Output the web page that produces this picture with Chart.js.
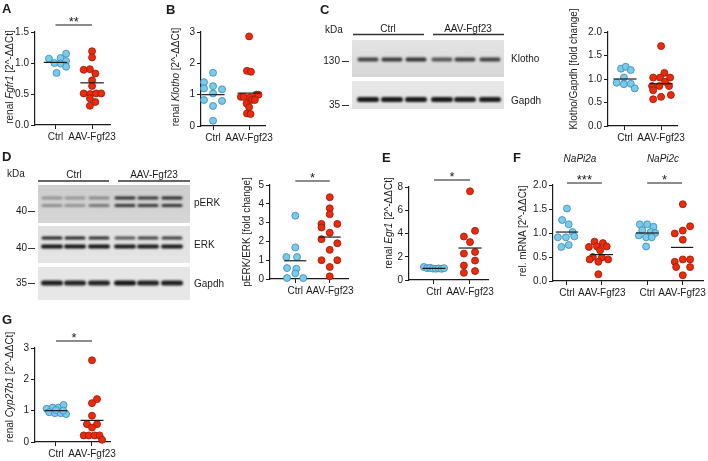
<!DOCTYPE html>
<html><head><meta charset="utf-8">
<script src="https://cdn.jsdelivr.net/npm/chart.js@4.4.1/dist/chart.umd.min.js"></script>
<style>
body{margin:0;background:#fff;}
#root{position:relative;width:708px;height:461px;overflow:hidden;font-family:"Liberation Sans",Arial,sans-serif;color:#1a1a1a;background:#fff;}
.t{position:absolute;white-space:nowrap;line-height:1;}
canvas{position:absolute;}
</style></head><body><div id="root"></div>
<script>
// ---------------- DATA ----------------
const groupLabels = ['Ctrl', 'AAV-Fgf23'];

// A  renal Fgfr1
const aCtrlY = [1.07, 1.00, 1.08, 0.99, 1.15, 1.03, 0.94, 0.84];
const aCtrlDx = [-0.18, -0.03, 0.14, 0.14, 0.29, 0.29, 0.29, 0.03];
const aAavY = [1.19, 1.09, 0.89, 0.90, 0.83, 0.72, 0.63, 0.51, 0.50, 0.51, 0.51, 0.43, 0.37, 0.31];
const aAavDx = [0, 0, -0.23, -0.06, 0.09, 0, 0, -0.23, -0.05, 0.11, 0.25, -0.06, 0.09, -0.06];
const aMeans = [1.01, 0.68];

// B  renal Klotho
const bCtrlY = [1.70, 1.40, 1.27, 1.20, 1.17, 1.04, 0.83, 0.80, 0.64, 0.17];
const bCtrlDx = [0, -0.25, 0, -0.25, 0.25, 0, -0.25, 0.25, 0, 0];
const bAavY = [2.86, 1.76, 1.73, 0.93, 0.93, 0.91, 1.00, 1.00, 0.83, 0.83, 0.72, 0.60, 0.40, 0.38];
const bAavDx = [0, -0.06, 0.05, -0.23, -0.15, 0.02, 0.20, 0.26, 0.07, 0.16, -0.07, 0, -0.06, 0.04];
const bMeans = [1.0, 1.05];

// C  Klotho/Gapdh
const cCtrlY = [1.22, 1.26, 1.19, 1.03, 0.92, 0.89, 0.90, 0.80];
const cCtrlDx = [-0.11, 0.02, 0.16, -0.03, -0.23, -0.03, 0.16, 0.27];
const cAavY = [1.70, 1.13, 1.03, 1.03, 1.03, 0.94, 0.85, 0.85, 0.85, 0.76, 0.66, 0.62, 0.57];
const cAavDx = [0, 0.09, -0.22, -0.03, 0.25, 0.11, -0.25, -0.05, 0.22, -0.22, 0.27, 0, -0.22];
const cMeans = [1.0, 0.9];

// D  pERK/ERK
const dCtrlY = [3.37, 1.68, 1.17, 1.17, 0.58, 0.55, 0.30, 0.05, 0.05];
const dCtrlDx = [0, 0, -0.26, 0.05, -0.24, 0.03, 0, -0.24, 0.23];
const dAavY = [4.35, 3.76, 3.44, 2.93, 2.93, 2.74, 2.46, 2.12, 1.90, 1.55, 1.00, 1.00, 0.64, 0.14];
const dAavDx = [0, 0, 0, -0.24, 0.22, -0.24, 0, -0.24, 0.22, 0, -0.24, 0.22, 0, 0];
const dMeans = [0.97, 2.23];

// E  renal Egr1
const eCtrlY = [1.12, 1.02, 1.05, 0.98, 0.97, 1.00, 0.96, 1.02];
const eCtrlDx = [-0.28, -0.19, -0.11, -0.03, 0.05, 0.13, 0.21, 0.28];
const eAavY = [7.63, 4.23, 3.74, 3.26, 2.41, 2.27, 1.67, 1.25, 0.77, 0.62];
const eAavDx = [0, 0.14, -0.17, 0, 0.14, -0.17, 0.14, -0.17, 0.14, -0.17];
const eMeans = [1.0, 2.75];

// F  NaPi2a / NaPi2c
const fLabels = ['Ctrl', 'AAV-Fgf23', 'Ctrl', 'AAV-Fgf23'];
const fGenes = ['NaPi2a', 'NaPi2c'];
const fCtrlAY = [1.51, 1.27, 1.18, 1.02, 0.91, 0.91, 0.93, 0.71, 0.75];
const fCtrlADx = [0, -0.14, 0.05, 0.16, -0.26, -0.03, 0.21, -0.16, 0.05];
const fAavAY = [0.82, 0.79, 0.72, 0.71, 0.72, 0.64, 0.50, 0.49, 0.45, 0.45, 0.40, 0.14];
const fAavADx = [-0.21, 0.03, -0.14, -0.37, 0.14, -0.05, -0.26, 0, -0.35, 0.18, -0.10, -0.10];
const fCtrlCY = [1.18, 1.18, 1.13, 1.06, 1.02, 1.00, 0.95, 0.91, 0.91, 0.72];
const fCtrlCDx = [-0.21, 0, 0.18, -0.14, 0.10, 0.23, -0.24, -0.03, 0.13, -0.03];
const fAavCY = [1.60, 1.14, 1.05, 0.99, 0.86, 0.40, 0.45, 0.45, 0.29, 0.29, 0.12];
const fAavCDx = [0.02, 0.23, 0.02, -0.21, 0.02, -0.21, 0.02, 0.23, -0.17, 0.23, 0.02];
const fMeans = [1.02, 0.55, 1.0, 0.70];

// G  renal Cyp27b1
const gCtrlY = [1.06, 1.10, 1.10, 1.18, 0.95, 0.92, 0.92, 0.89, 1.02, 1.00];
const gCtrlDx = [-0.26, -0.09, 0.07, 0.21, -0.19, -0.03, 0.13, 0.28, 0.0, 0.20];
const gAavY = [2.61, 1.37, 1.24, 0.84, 0.57, 0.57, 0.46, 0.21, 0.21, 0.21, 0.21, 0.07];
const gAavDx = [0, 0.14, 0, 0, -0.14, 0.14, 0, -0.23, -0.09, 0.07, 0.21, 0.28];
const gMeans = [1.0, 0.69];

// Western blot band intensities (0..1), 6 lanes: 3 Ctrl + 3 AAV-Fgf23
const klothoBands = [0.72, 0.78, 0.82, 0.62, 0.76, 0.74];
const gapdhCBands = [0.95, 0.95, 0.95, 0.95, 0.92, 0.93];
const perkUpper = [0.30, 0.28, 0.35, 0.85, 0.80, 0.88];
const perkLower = [0.32, 0.30, 0.45, 0.80, 0.78, 0.82];
const erkUpper = [0.92, 0.90, 0.85, 0.65, 0.75, 0.78];
const erkLower = [0.98, 0.98, 0.98, 0.95, 0.95, 0.95];
const gapdhDBands = [0.92, 0.90, 0.90, 0.97, 0.90, 0.92];

// ---------------- RENDER ----------------
const FONT = '"Liberation Sans", Arial, sans-serif';
const INK = '#1a1a1a';
const BLUE = '#78CBEC', BLUE_B = '#3E86A8';
const RED = '#EE2A0C', RED_B = '#8E1A08';
const root = document.getElementById('root');

function txt(x, y, s, o = {}) {
  const d = document.createElement('div');
  d.className = 't';
  d.innerHTML = s;
  d.style.left = x + 'px'; d.style.top = y + 'px';
  d.style.fontSize = (o.size || 10) + 'px';
  if (o.bold) d.style.fontWeight = 'bold';
  if (o.italic) d.style.fontStyle = 'italic';
  const a = o.align || 'l';
  let tr = a === 'c' ? 'translate(-50%,-50%)' : a === 'r' ? 'translate(-100%,-50%)' : 'translate(0,-50%)';
  if (o.rot) tr = 'translate(-50%,-50%) rotate(-90deg)';
  d.style.transform = tr;
  root.appendChild(d);
}

// ---- blots drawn on a background canvas ----
const bg = document.createElement('canvas');
bg.width = 708; bg.height = 461; bg.style.left = '0px'; bg.style.top = '0px';
root.appendChild(bg);
const ctx = bg.getContext('2d');

function box(x0, y0, x1, y1, top, bot) {
  const g = ctx.createLinearGradient(0, y0, 0, y1);
  g.addColorStop(0, top); g.addColorStop(1, bot);
  ctx.fillStyle = g;
  ctx.fillRect(x0, y0, x1 - x0, y1 - y0);
}
function bands(centers, cy, w, h, vals, blur) {
  centers.forEach((cx, i) => {
    ctx.save();
    ctx.filter = 'blur(' + blur + 'px)';
    const v = Math.round(200 - 185 * vals[i]);
    ctx.fillStyle = 'rgb(' + v + ',' + v + ',' + v + ')';
    ctx.beginPath();
    ctx.roundRect(cx - w / 2, cy - h / 2, w, h, h / 2);
    ctx.fill();
    ctx.restore();
  });
}
function hline(x0, x1, y, w, c) {
  ctx.strokeStyle = c || '#333'; ctx.lineWidth = w;
  ctx.beginPath(); ctx.moveTo(x0, y); ctx.lineTo(x1, y); ctx.stroke();
}

// Panel C blot
const laneC = [368, 392, 416, 442, 465, 490];
hline(353, 424, 34.5, 1.6); hline(433, 504, 34.5, 1.6);
box(352, 40, 504, 77, '#e4e4e4', '#d6d6d6');
bands(laneC, 59.5, 21, 3.8, klothoBands, 0.9);
box(352, 81, 504, 109, '#e8e8e8', '#e2e2e2');
bands(laneC, 99.5, 22, 5, gapdhCBands, 0.9);
hline(342, 349, 61.5, 1); hline(342, 349, 105.5, 1);

// Panel D blot
const laneD = [52, 75, 99, 125, 148, 172];
hline(38, 109, 181, 1.6); hline(118, 190, 181, 1.6);
box(38, 185, 190, 223, '#cdcdcd', '#d6d6d6');
bands(laneD, 198, 21, 2.8, perkUpper, 0.8);
bands(laneD, 205.5, 21, 3, perkLower, 0.8);
box(38, 226, 190, 263, '#e0e0e0', '#e5e5e5');
bands(laneD, 238, 21, 3.2, erkUpper, 0.8);
bands(laneD, 246.5, 22, 4, erkLower, 0.8);
box(38, 267, 190, 300, '#e5e5e5', '#e8e8e8');
bands(laneD, 283, 22, 5, gapdhDBands, 0.9);
hline(28, 35, 211.5, 1); hline(28, 35, 248.5, 1); hline(28, 35, 283.5, 1);

// blot texts
txt(334, 30, 'kDa', { align: 'c' });
txt(388, 29, 'Ctrl', { align: 'c' });
txt(468, 29, 'AAV-Fgf23', { align: 'c' });
txt(340, 61, '130', { align: 'r' });
txt(340, 105, '35', { align: 'r' });
txt(511, 59, 'Klotho');
txt(511, 101, 'Gapdh');

txt(16, 174, 'kDa', { align: 'c' });
txt(74, 175, 'Ctrl', { align: 'c' });
txt(154, 175, 'AAV-Fgf23', { align: 'c' });
txt(27, 211, '40', { align: 'r' });
txt(27, 248, '40', { align: 'r' });
txt(27, 283, '35', { align: 'r' });
txt(194, 203, 'pERK');
txt(194, 245, 'ERK');
txt(194, 284, 'Gapdh');

// panel letters
[['A', 2, 8], ['B', 166, 9], ['C', 320, 9], ['D', 2, 156], ['E', 382, 157], ['F', 513, 157], ['G', 2, 319]]
  .forEach(([s, x, y]) => txt(x, y, s, { bold: true, size: 13 }));

// y-axis titles
txt(10, 77, 'renal <i>Fgfr1</i> [2^-ΔΔCt]', { rot: true });
txt(176, 77, 'renal <i>Klotho</i> [2^-ΔΔCt]', { rot: true });
txt(574, 69, 'Klotho/Gapdh [fold change]', { rot: true });
txt(247, 232, 'pERK/ERK [fold change]', { rot: true });
txt(389, 223, 'renal <i>Egr1</i> [2^-ΔΔCt]', { rot: true });
txt(523, 231, 'rel. mRNA [2^-ΔΔCt]', { rot: true });
txt(10, 387, 'renal <i>Cyp27b1</i> [2^-ΔΔCt]', { rot: true });
txt(580, 159, fGenes[0], { align: 'c', italic: true });
txt(663, 159, fGenes[1], { align: 'c', italic: true });

// ---- scatter panels ----
function panel(cfg) {
  const padTop = 18, yW = 30, xH = 24, padR = 26;
  const W = cfg.right - cfg.left + yW + padR;
  const H = cfg.bottom - cfg.top + padTop + xH;
  const cv = document.createElement('canvas');
  cv.width = W; cv.height = H;
  cv.style.width = W + 'px'; cv.style.height = H + 'px';
  cv.style.left = (cfg.left - yW) + 'px'; cv.style.top = (cfg.top - padTop) + 'px';
  root.appendChild(cv);
  const datasets = [];
  cfg.groups.forEach(g => {
    datasets.push({
      data: [{ x: g.x - 0.32, y: g.mean }, { x: g.x + 0.32, y: g.mean }],
      showLine: true, borderColor: INK, borderWidth: 1.2, pointRadius: 0, clip: false, order: 0
    });
  });
  cfg.groups.forEach(g => {
    datasets.push({
      data: g.y.map((v, k) => ({ x: g.x + g.dx[k], y: v })),
      backgroundColor: g.red ? RED : BLUE, borderColor: g.red ? RED_B : BLUE_B,
      borderWidth: 0.8, pointRadius: 3.5, clip: false, order: 1
    });
  });
  const sigPlugin = {
    id: 'sig' + cfg.left,
    afterDraw(chart) {
      const c = chart.ctx, xs = chart.scales.x, a = chart.chartArea;
      (cfg.sig || []).forEach(s => {
        const y = a.top - s.off;
        c.save();
        c.strokeStyle = INK; c.lineWidth = 1.2;
        c.beginPath(); c.moveTo(xs.getPixelForValue(s.x1), y); c.lineTo(xs.getPixelForValue(s.x2), y); c.stroke();
        c.fillStyle = INK; c.font = '13px ' + FONT; c.textAlign = 'center'; c.textBaseline = 'alphabetic';
        c.fillText(s.text, (xs.getPixelForValue(s.x1) + xs.getPixelForValue(s.x2)) / 2, y + 1);
        c.restore();
      });
    }
  };
  const axisCommon = {
    grid: { drawOnChartArea: false, drawTicks: true, tickLength: 4, color: INK, lineWidth: 1 },
    border: { color: INK, width: 1.2 }
  };
  new Chart(cv, {
    type: 'scatter',
    data: { datasets },
    options: {
      responsive: false, animation: false, events: [],
      layout: { padding: { top: padTop, right: padR, left: 0, bottom: 0 } },
      plugins: { legend: { display: false }, tooltip: { enabled: false } },
      scales: {
        x: Object.assign({
          type: 'linear', min: cfg.xmin, max: cfg.xmax,
          afterFit: s => { s.height = xH; },
          afterBuildTicks: s => { s.ticks = cfg.groups.map(g => ({ value: g.x })); },
          ticks: { callback: (v, i) => cfg.groups[i] ? cfg.groups[i].label : '', font: { size: 10, family: FONT }, color: INK, padding: 2, maxRotation: 0, autoSkip: false }
        }, axisCommon),
        y: Object.assign({
          min: cfg.ymin, max: cfg.ymax,
          afterFit: s => { s.width = yW; },
          ticks: { stepSize: cfg.step, callback: v => Number(v).toFixed(cfg.dec), font: { size: 10, family: FONT }, color: INK, padding: 2 }
        }, axisCommon)
      }
    },
    plugins: [sigPlugin]
  });
}

const two = (ctrlY, ctrlDx, aavY, aavDx, means) => [
  { x: 1, y: ctrlY, dx: ctrlDx, mean: means[0], label: groupLabels[0], red: false },
  { x: 2, y: aavY, dx: aavDx, mean: means[1], label: groupLabels[1], red: true }
];

panel({ left: 35, top: 32, bottom: 125, right: 110, xmin: 0.44, xmax: 2.49, ymin: 0, ymax: 1.5, step: 0.5, dec: 1,
  groups: two(aCtrlY, aCtrlDx, aAavY, aAavDx, aMeans), sig: [{ x1: 1, x2: 2, off: 7, text: '**' }] });
panel({ left: 201, top: 32, bottom: 126, right: 265, xmin: 0.667, xmax: 2.44, ymin: 0, ymax: 3, step: 1, dec: 0,
  groups: two(bCtrlY, bCtrlDx, bAavY, bAavDx, bMeans) });
panel({ left: 608, top: 32, bottom: 126, right: 677, xmin: 0.53, xmax: 2.44, ymin: 0, ymax: 2, step: 0.5, dec: 1,
  groups: two(cCtrlY, cCtrlDx, cAavY, cAavDx, cMeans) });
panel({ left: 270, top: 185, bottom: 279, right: 348, xmin: 0.265, xmax: 2.53, ymin: 0, ymax: 5, step: 1, dec: 0,
  groups: two(dCtrlY, dCtrlDx, dAavY, dAavDx, dMeans), sig: [{ x1: 1, x2: 2, off: 4, text: '*' }] });
panel({ left: 409, top: 187, bottom: 280, right: 488, xmin: 0.306, xmax: 2.5, ymin: 0, ymax: 8, step: 2, dec: 0,
  groups: two(eCtrlY, eCtrlDx, eAavY, eAavDx, eMeans), sig: [{ x1: 1, x2: 2, off: 7, text: '*' }] });
panel({ left: 553, top: 185, bottom: 281, right: 703, xmin: 0.6, xmax: 4.9, ymin: 0, ymax: 2, step: 0.5, dec: 1,
  groups: [
    { x: 1, y: fCtrlAY, dx: fCtrlADx, mean: fMeans[0], label: fLabels[0], red: false },
    { x: 2, y: fAavAY, dx: fAavADx, mean: fMeans[1], label: fLabels[1], red: true },
    { x: 3.3, y: fCtrlCY, dx: fCtrlCDx, mean: fMeans[2], label: fLabels[2], red: false },
    { x: 4.3, y: fAavCY, dx: fAavCDx, mean: fMeans[3], label: fLabels[3], red: true }
  ],
  sig: [{ x1: 1, x2: 2, off: 2, text: '***' }, { x1: 3.3, x2: 4.3, off: 2, text: '*' }] });
panel({ left: 35, top: 348, bottom: 442, right: 110, xmin: 0.417, xmax: 2.5, ymin: 0, ymax: 3, step: 1, dec: 0,
  groups: two(gCtrlY, gCtrlDx, gAavY, gAavDx, gMeans), sig: [{ x1: 1, x2: 2, off: 7, text: '*' }] });
</script>
</body></html>
